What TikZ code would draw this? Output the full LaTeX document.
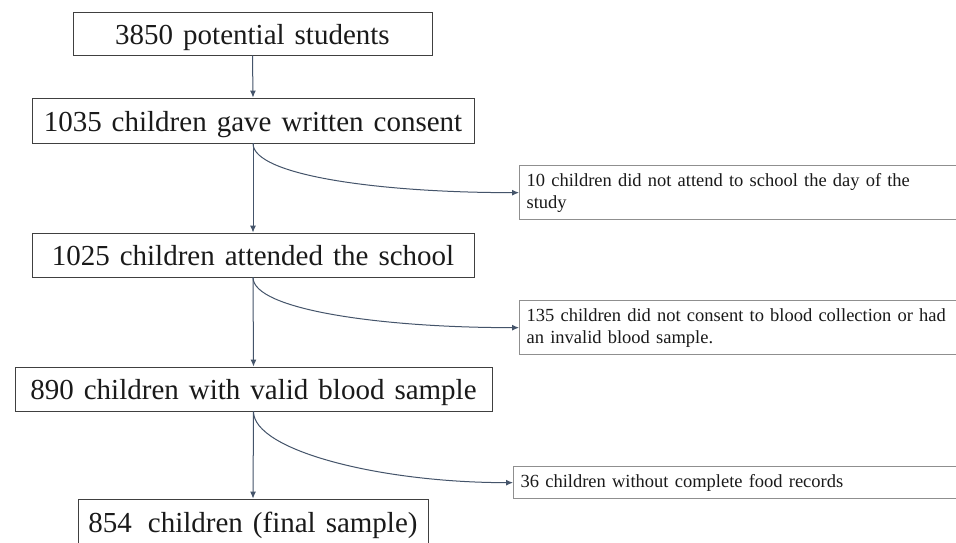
\documentclass[tikz,border=0pt]{standalone}
\usepackage{fontspec}
\setmainfont{Liberation Serif}
\usetikzlibrary{arrows.meta}
\definecolor{boxline}{HTML}{404040}
\definecolor{arrowc}{HTML}{44546A}
\definecolor{sidel}{HTML}{8F8F8F}
\definecolor{txt}{HTML}{1A1A1A}
\newcommand\mybigtext{\fontsize{29}{34}\selectfont\spaceskip=10pt plus 2pt minus 1pt\relax}
\begin{document}
\begin{tikzpicture}[x=1pt,y=-1pt,
  mainbox/.style={draw=boxline, line width=0.9pt, inner sep=0pt, text height=21pt, text depth=0pt,
    text=txt, font=\mybigtext},
  sidebox/.style={draw=sidel, line width=1.3pt, anchor=north west, align=left, text width=480pt,
    inner xsep=7pt, inner ysep=0pt, text=txt, font=\fontsize{18.5}{22}\selectfont},
  flow/.style={draw=arrowc, line width=1pt, -{Latex[length=7pt,width=6pt]}}]
\useasboundingbox (0,0) rectangle (956,542);
\fill[white] (0,0) rectangle (956,542);
\clip (0,0) rectangle (956,542);
\node[mainbox, minimum width=359pt, minimum height=43pt] (n1) at (252.5,33.5) {3850 potential students};
\node[mainbox, minimum width=442pt, minimum height=45pt] (n2) at (253,120.5) {1035 children gave written consent};
\node[mainbox, minimum width=442pt, minimum height=44pt] (n3) at (253,255) {1025 children attended the school};
\node[mainbox, minimum width=477pt, minimum height=44pt] (n4) at (253.5,389) {890 children with valid blood sample};
\node[mainbox, minimum width=350pt, minimum height=46pt] (n5) at (253,522) {854\hspace{6pt} children (final sample)};
\node[sidebox, minimum height=54pt] (s1) at (519,165) {10 children did not attend to school the day of the\\study};
\node[sidebox, minimum height=54pt] (s2) at (519,300) {135 children did not consent to blood collection or had\\an invalid blood sample.};
\node[sidebox, minimum height=32pt] (s3) at (513,466) {36 children without complete food records};
\draw[flow] (n1.south) -- (n2.north);
\draw[flow] (n2.south) -- (n3.north);
\draw[flow] (n3.south) -- (n4.north);
\draw[flow] (n4.south) -- (n5.north);
\draw[flow] (n2.south) .. controls +(0,32) and +(-139,0) .. (s1.west);
\draw[flow] (n3.south) .. controls +(0,32) and +(-139,0) .. (s2.west);
\draw[flow] (n4.south) .. controls +(0,39) and +(-133,0) .. (s3.west);
\end{tikzpicture}
\end{document}
